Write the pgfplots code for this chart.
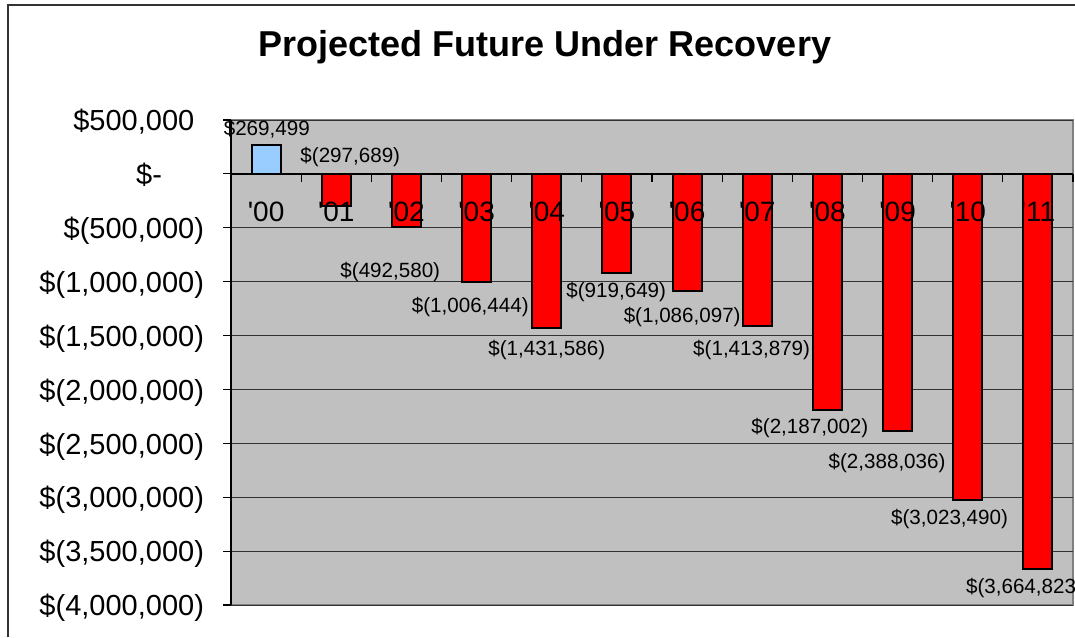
\documentclass[border=0pt]{standalone}
\usepackage{pgfplots}
\pgfplotsset{compat=1.18}
\usepackage{fontspec}
\setmainfont{Liberation Sans}
\definecolor{plotgray}{HTML}{C0C0C0}
\definecolor{barblue}{HTML}{99CCFF}
\definecolor{barred}{HTML}{FF0000}
\pgfplotsset{
  /pgfplots/layers/barsmid/.define layer set={
    axis background,axis grid,pre main,main,axis ticks,axis lines,axis tick labels,axis descriptions,axis foreground
  }{/pgfplots/layers/standard},
}
\begin{document}
\begin{tikzpicture}
\draw[line width=1pt, black!80] (4pt,0) -- (4pt,316pt) -- (537.5pt,316pt);
\node[font=\bfseries\fontsize{18}{21}\selectfont] at (272.5pt,295pt) {Projected Future Under Recovery};
\begin{axis}[
  set layers=barsmid,
  at={(115.5pt,16pt)}, anchor=south west,
  scale only axis, width=421pt, height=242.5pt,
  xmin=-0.5, xmax=11.5, ymin=-4000000, ymax=500000,
  axis x line=middle, axis y line=left,
  axis line style={-, black, line width=0.7pt},
  axis background/.style={fill=plotgray, draw=black!50, line width=1pt},
  tick align=outside,
  major tick length=4pt,
  xtick={0.5,1.5,...,11.5}, xticklabels={},
  x tick style={black, line width=0.6pt},
  extra x ticks={0,1,...,11},
  extra x tick labels={\textquotesingle 00,\textquotesingle 01,\textquotesingle 02,\textquotesingle 03,\textquotesingle 04,\textquotesingle 05,\textquotesingle 06,\textquotesingle 07,\textquotesingle 08,\textquotesingle 09,\textquotesingle 10,\textquotesingle 11},
  extra x tick style={major tick length=0pt, grid=none},
  xticklabel style={font=\fontsize{14}{16}\selectfont, anchor=base, yshift=-24pt},
  ytick={-4000000,-3500000,-3000000,-2500000,-2000000,-1500000,-1000000,-500000,0,500000},
  yticklabels={{\$(4,000,000)},{\$(3,500,000)},{\$(3,000,000)},{\$(2,500,000)},{\$(2,000,000)},{\$(1,500,000)},{\$(1,000,000)},{\$(500,000)},{\$-\phantom{00)}},{\$500,000\phantom{)}}},
  yticklabel style={font=\fontsize{14.5}{17}\selectfont, anchor=east, xshift=-6pt, yshift=-1.5pt},
  y tick style={black, line width=0.6pt},
  ymajorgrids,
  grid style={black!80, line width=0.5pt},
  scaled y ticks=false,
  ybar, bar width=14.5pt,
  clip=false,
]
\addplot[fill=barblue, draw=black, line width=1pt, bar shift=0pt] coordinates {(0,269499)};
\addplot[fill=barred, draw=black, line width=1pt, bar shift=0pt] coordinates {
(1,-297689) (2,-492580) (3,-1006444) (4,-1431586) (5,-919649) (6,-1086097)
(7,-1413879) (8,-2187002) (9,-2388036) (10,-3023490) (11,-3664823)};
\begin{scope}[every node/.style={font=\fontsize{10.3}{12}\selectfont, inner sep=0pt}]
\node at (axis cs:0.01,417400) {\$269,499};
\node at (axis cs:1.20,157700) {\$(297,689)};
\node at (axis cs:1.77,-909000) {\$(492,580)};
\node at (axis cs:2.91,-1233700) {\$(1,006,444)};
\node at (axis cs:4.00,-1632600) {\$(1,431,586)};
\node at (axis cs:4.99,-1094600) {\$(919,649)};
\node at (axis cs:5.93,-1326500) {\$(1,086,097)};
\node at (axis cs:6.92,-1632600) {\$(1,413,879)};
\node at (axis cs:7.75,-2356100) {\$(2,187,002)};
\node at (axis cs:8.85,-2680800) {\$(2,388,036)};
\node at (axis cs:9.74,-3200200) {\$(3,023,490)};
\node[anchor=west] at (axis cs:9.97,-3840300) {\$(3,664,823)};
\end{scope}
\end{axis}
\pgfresetboundingbox
\useasboundingbox (0,0) rectangle (537.5pt,318.5pt);
\end{tikzpicture}
\end{document}
